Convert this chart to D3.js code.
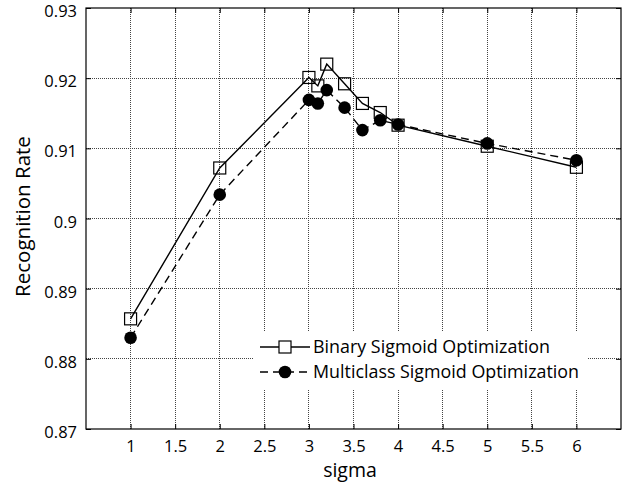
<!DOCTYPE html>
<html><head><meta charset="utf-8">
<script src="https://cdn.jsdelivr.net/npm/d3@7"></script>
<style>body{margin:0;background:#fff}svg{display:block}text{font-family:"Open Sans",sans-serif}</style>
</head><body>
<svg id="c" width="640" height="482"></svg>
<script>
const sigma = [1, 2, 3, 3.1, 3.2, 3.4, 3.6, 3.8, 4, 5, 6];
const binaryRate = [0.8857, 0.9072, 0.9201, 0.9189, 0.9220, 0.9192, 0.9164, 0.9151, 0.9133, 0.9103, 0.9073];
const multiRate = [0.8830, 0.9034, 0.9169, 0.9164, 0.9183, 0.9158, 0.9126, 0.9140, 0.9134, 0.9107, 0.9083];
const xTicks = [1, 1.5, 2, 2.5, 3, 3.5, 4, 4.5, 5, 5.5, 6];
const yTicks = [0.87, 0.88, 0.89, 0.9, 0.91, 0.92, 0.93];
const seriesNames = ["Binary Sigmoid Optimization", "Multiclass Sigmoid Optimization"];

const svg = d3.select("#c");
const L = 86, T = 8, R = 621, B = 429;
const x = d3.scaleLinear().domain([0.5, 6.5]).range([L, R]);
const y = d3.scaleLinear().domain([0.87, 0.93]).range([B, T]);
const fmtY = d => String(+d.toFixed(2));

// grid
const g = svg.append("g");
g.selectAll(".vg").data(xTicks).join("line")
  .attr("x1", d => x(d)).attr("x2", d => x(d)).attr("y1", T).attr("y2", B)
  .attr("stroke", "#444").attr("stroke-width", 1).attr("stroke-dasharray", "1,1")
  .attr("shape-rendering", "crispEdges");
g.selectAll(".hg").data(yTicks.slice(1, -1)).join("line")
  .attr("y1", d => y(d)).attr("y2", d => y(d)).attr("x1", L).attr("x2", R)
  .attr("stroke", "#444").attr("stroke-width", 1).attr("stroke-dasharray", "1,1")
  .attr("shape-rendering", "crispEdges");

// axes
const ax = svg.append("g").attr("transform", `translate(0,${B})`)
  .call(d3.axisBottom(x).tickValues(xTicks).tickSize(-5).tickPadding(11).tickFormat(d3.format("")));
const axT = svg.append("g").attr("transform", `translate(0,${T})`)
  .call(d3.axisTop(x).tickValues(xTicks).tickSize(-5).tickFormat(""));
const ay = svg.append("g").attr("transform", `translate(${L},0)`)
  .call(d3.axisLeft(y).tickValues(yTicks).tickSize(-5).tickPadding(9).tickFormat(fmtY));
const ayR = svg.append("g").attr("transform", `translate(${R},0)`)
  .call(d3.axisRight(y).tickValues(yTicks).tickSize(-5).tickFormat(""));
[ax, axT, ay, ayR].forEach(a => {
  a.select(".domain").remove();
  a.selectAll("line").attr("stroke", "#000");
  a.selectAll("text").attr("font-size", 16.5).attr("fill", "#000").attr("font-family", "Open Sans, sans-serif");
});
ay.selectAll("text").attr("dy", "0.52em");
svg.append("rect").attr("x", L).attr("y", T).attr("width", R - L).attr("height", B - T)
  .attr("fill", "none").attr("stroke", "#000").attr("stroke-width", 1.2);

// lines
const line = d3.line().x(d => x(d[0])).y(d => y(d[1]));
const bData = sigma.map((s, i) => [s, binaryRate[i]]);
const mData = sigma.map((s, i) => [s, multiRate[i]]);
svg.append("path").datum(bData).attr("d", line).attr("fill", "none").attr("stroke", "#000").attr("stroke-width", 1.4);
svg.append("path").datum(mData).attr("d", line).attr("fill", "none").attr("stroke", "#000").attr("stroke-width", 1.4).attr("stroke-dasharray", "8,5");
svg.selectAll(".sq").data(bData).join("rect")
  .attr("x", d => x(d[0]) - 6).attr("y", d => y(d[1]) - 6).attr("width", 12).attr("height", 12)
  .attr("fill", "none").attr("stroke", "#000").attr("stroke-width", 1.2);
svg.selectAll(".ci").data(mData).join("circle")
  .attr("cx", d => x(d[0])).attr("cy", d => y(d[1])).attr("r", 6.3).attr("fill", "#000");

// legend
const lg = svg.append("g");
lg.append("rect").attr("x", 253).attr("y", 332).attr("width", 335).attr("height", 58).attr("fill", "#fff");
const ly = [347, 372];
const lw = [237, 266];
seriesNames.forEach((n, i) => {
  lg.append("line").attr("x1", 260).attr("x2", 310).attr("y1", ly[i]).attr("y2", ly[i])
    .attr("stroke", "#000").attr("stroke-width", 1.4).attr("stroke-dasharray", i ? "8,5" : null);
  if (i === 0) lg.append("rect").attr("x", 279).attr("y", ly[i] - 6).attr("width", 12).attr("height", 12)
    .attr("fill", "#fff").attr("stroke", "#000").attr("stroke-width", 1.2);
  else lg.append("circle").attr("cx", 285).attr("cy", ly[i]).attr("r", 6.3).attr("fill", "#000");
  lg.append("text").attr("x", 313).attr("y", ly[i]).attr("dy", "0.35em").attr("font-size", 18)
    .attr("textLength", lw[i]).attr("lengthAdjust", "spacingAndGlyphs").text(n);
});

// axis labels
svg.append("text").attr("x", 350).attr("y", 477).attr("text-anchor", "middle").attr("font-size", 19.5).text("sigma");
svg.append("text").attr("transform", `translate(29.5,216.5) rotate(-90)`).attr("text-anchor", "middle").attr("font-size", 20.5).text("Recognition Rate");
</script>
</body></html>
